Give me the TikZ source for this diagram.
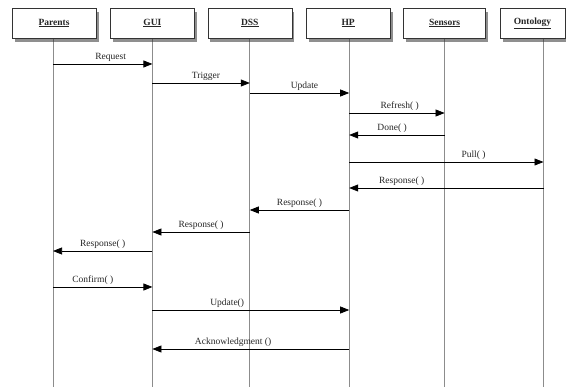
\documentclass[tikz,border=0pt]{standalone}
\usepackage{fontspec}
\setmainfont{Liberation Serif}
\usetikzlibrary{positioning,shadows,arrows.meta}
\pgfdeclarelayer{background}
\pgfsetlayers{background,main}
\newcommand{\actornode}[2]{
\node (#1) [#2]{\underline{\textbf{#1}}};}
\newcommand{\sendmsg}[5]{
\draw[msg] (#1-l |- 0,#3) -- node[msglabel, pos=#4]{#5} (#2-l |- 0,#3);}
\tikzstyle{actor}=[rectangle, draw=black!80, fill=white, minimum width=84pt, minimum height=30pt,
        font=\fontsize{9.5}{11}\selectfont, text=black!85,
        drop shadow={shadow xshift=2.5pt, shadow yshift=-4pt, fill=black!80, opacity=0.55}]
\tikzstyle{lifeline}=[draw=black!45, line width=0.8pt]
\tikzstyle{msg}=[line width=0.7pt, -{Triangle[length=9pt,width=7pt]}]
\tikzstyle{msglabel}=[above=1pt, font=\fontsize{9.5}{11}\selectfont, inner sep=1pt, text=black!85]
\begin{document}
\begin{tikzpicture}[x=1pt, y=-1pt]
\useasboundingbox (0,0) rectangle (566,387);

\actornode{Parents}{actor, at={(54,23)}}
\actornode{GUI}{actor, right=14pt of Parents}
\actornode{DSS}{actor, right=13pt of GUI}
\actornode{HP}{actor, right=14pt of DSS}
\actornode{Sensors}{actor, minimum width=82pt, right=13pt of HP}
\actornode{Ontology}{actor, minimum width=65pt, right=14pt of Sensors}

% lifelines
\coordinate (Parents-l) at ([xshift=-1pt]Parents.south);
\coordinate (GUI-l) at (GUI.south);
\coordinate (DSS-l) at (DSS.south);
\coordinate (HP-l) at ([xshift=1pt]HP.south);
\coordinate (Sensors-l) at (Sensors.south);
\coordinate (Ontology-l) at ([xshift=11pt]Ontology.south);
\begin{pgfonlayer}{background}
\foreach \a in {Parents,GUI,DSS,HP,Sensors,Ontology}
  \draw[lifeline] (\a-l) -- (\a-l |- 0,387);
\end{pgfonlayer}

% messages
\sendmsg{Parents}{GUI}{64}{0.58}{Request}
\sendmsg{GUI}{DSS}{83}{0.55}{Trigger}
\sendmsg{DSS}{HP}{93}{0.55}{Update}
\sendmsg{HP}{Sensors}{113}{0.53}{Refresh( )}
\sendmsg{Sensors}{HP}{135}{0.55}{Done( )}
\sendmsg{HP}{Ontology}{162}{0.64}{Pull( )}
\sendmsg{Ontology}{HP}{188}{0.73}{Response( )}
\sendmsg{HP}{DSS}{210}{0.5}{Response( )}
\sendmsg{DSS}{GUI}{232}{0.5}{Response( )}
\sendmsg{GUI}{Parents}{251}{0.5}{Response( )}
\sendmsg{Parents}{GUI}{287}{0.4}{Confirm( )}
\sendmsg{GUI}{HP}{310}{0.38}{Update()}
\sendmsg{HP}{GUI}{349}{0.59}{Acknowledgment ()}

\end{tikzpicture}
\end{document}
